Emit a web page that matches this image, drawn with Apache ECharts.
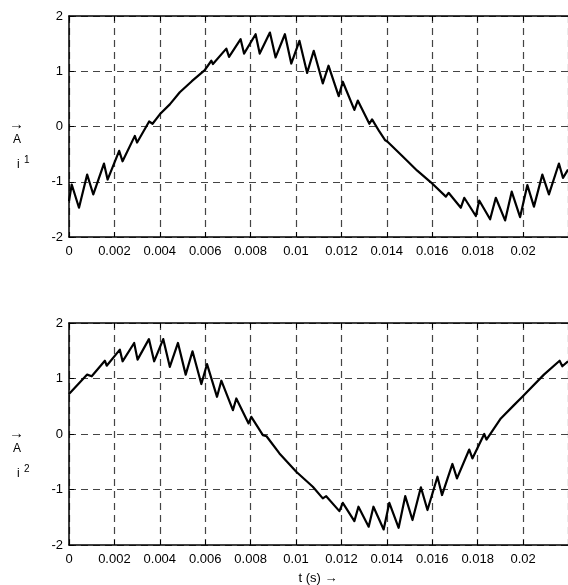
<!DOCTYPE html>
<html>
<head>
<meta charset="utf-8">
<script src="https://cdn.jsdelivr.net/npm/echarts@6/dist/echarts.min.js"></script>
<style>
  html, body { margin: 0; padding: 0; background: #fff; }
  #chart { width: 568px; height: 585px; }
</style>
</head>
<body>
<div id="chart"></div>
<script>
// time ticks and y ticks
const xTicks = [0, 0.002, 0.004, 0.006, 0.008, 0.01, 0.012, 0.014, 0.016, 0.018, 0.02];
const yTicks = [-2, -1, 0, 1, 2];

// i1 (upper plot), peaks and troughs of the ripple
const t1 = [0, 0.00012, 0.00044, 0.00080, 0.00107, 0.00154, 0.00170, 0.00221, 0.00236, 0.00290,
  0.00300, 0.00353, 0.00368, 0.00400, 0.00444, 0.00488, 0.00541, 0.00598, 0.00627, 0.00634,
  0.00693, 0.00705, 0.00756, 0.00771, 0.00822, 0.00840, 0.00885, 0.00910, 0.00951, 0.00979,
  0.01015, 0.01049, 0.01078, 0.01118, 0.01143, 0.01188, 0.01206, 0.01257, 0.01272, 0.01323,
  0.01335, 0.01367, 0.01393, 0.01402, 0.01469, 0.01534, 0.01594, 0.01660, 0.01672, 0.01726,
  0.01741, 0.01792, 0.01807, 0.01855, 0.01880, 0.01921, 0.01950, 0.01987, 0.02019, 0.02048,
  0.02085, 0.02114, 0.02158, 0.02176, 0.02198];
const i1 = [-1.35, -1.05, -1.47, -0.87, -1.23, -0.67, -0.96, -0.44, -0.63, -0.17,
  -0.29, 0.09, 0.05, 0.22, 0.40, 0.62, 0.82, 1.02, 1.19, 1.13,
  1.41, 1.26, 1.58, 1.32, 1.67, 1.32, 1.70, 1.25, 1.67, 1.14,
  1.55, 0.97, 1.37, 0.78, 1.10, 0.55, 0.81, 0.30, 0.47, 0.05,
  0.13, -0.09, -0.25, -0.27, -0.54, -0.80, -1.01, -1.27, -1.20, -1.47,
  -1.29, -1.62, -1.34, -1.68, -1.29, -1.70, -1.18, -1.64, -1.06, -1.45,
  -0.87, -1.23, -0.67, -0.93, -0.78];

// i2 (lower plot)
const t2 = [0, 0.00080, 0.00100, 0.00158, 0.00166, 0.00224, 0.00236, 0.00287, 0.00302, 0.00352,
  0.00375, 0.00415, 0.00444, 0.00480, 0.00514, 0.00544, 0.00583, 0.00608, 0.00652, 0.00671,
  0.00722, 0.00737, 0.00791, 0.00803, 0.00854, 0.00862, 0.00870, 0.00927, 0.01001, 0.01074,
  0.01118, 0.01133, 0.01191, 0.01206, 0.01257, 0.01275, 0.01320, 0.01341, 0.01386, 0.01411,
  0.01452, 0.01481, 0.01513, 0.01550, 0.01579, 0.01623, 0.01643, 0.01689, 0.01709, 0.01763,
  0.01777, 0.01829, 0.01839, 0.01902, 0.01960, 0.01997, 0.02092, 0.02161, 0.02173, 0.02198];
const i2 = [0.72, 1.07, 1.04, 1.32, 1.23, 1.52, 1.31, 1.64, 1.34, 1.71,
  1.31, 1.71, 1.21, 1.64, 1.07, 1.49, 0.90, 1.26, 0.67, 0.96,
  0.43, 0.64, 0.19, 0.31, -0.02, -0.05, -0.04, -0.35, -0.68, -0.95,
  -1.16, -1.12, -1.39, -1.24, -1.57, -1.31, -1.67, -1.31, -1.72, -1.24,
  -1.69, -1.12, -1.55, -0.96, -1.37, -0.77, -1.10, -0.54, -0.80, -0.28,
  -0.44, 0.00, -0.10, 0.28, 0.52, 0.67, 1.07, 1.32, 1.22, 1.31];

const xMax = 0.02198;
const font = 'Liberation Sans, Arial, Helvetica, sans-serif';

const chart = echarts.init(document.getElementById('chart'), null, { renderer: 'canvas' });

const gridLine = { show: true, lineStyle: { color: '#444', width: 1.2, type: [7, 5] } };

function bottomAxis(gridIndex) {
  return {
    type: 'value', gridIndex, min: 0, max: xMax, interval: 0.002,
    axisLine: { show: true, onZero: false, lineStyle: { color: '#000', width: 1.5 } },
    axisTick: { show: true, inside: true, length: 5, lineStyle: { color: '#000' } },
    axisLabel: {
      color: '#000', fontSize: 13, fontFamily: font, margin: 8, showMaxLabel: false,
      formatter: v => String(+v.toFixed(4))
    },
    splitLine: gridLine
  };
}
function topAxis(gridIndex) {
  return {
    type: 'value', gridIndex, position: 'top', min: 0, max: xMax, interval: 0.002,
    axisLine: { show: true, onZero: false, lineStyle: { color: '#000', width: 1.5 } },
    axisTick: { show: true, inside: true, length: 5, lineStyle: { color: '#000' } },
    axisLabel: { show: false },
    splitLine: { show: false }
  };
}
function leftAxis(gridIndex) {
  return {
    type: 'value', gridIndex, min: -2, max: 2, interval: 1,
    axisLine: { show: true, onZero: false, lineStyle: { color: '#000', width: 1.5 } },
    axisTick: { show: true, inside: true, length: 5, lineStyle: { color: '#000' } },
    axisLabel: { color: '#000', fontSize: 13, fontFamily: font, margin: 6 },
    splitLine: gridLine
  };
}

const lineSeries = (idx, t, v) => ({
  type: 'line', xAxisIndex: idx, yAxisIndex: idx,
  data: t.map((x, k) => [x, v[k]]),
  showSymbol: false, symbol: 'none', animation: false,
  lineStyle: { color: '#000', width: 2.2, join: 'round' }
});

const labelText = (x, y, text, size) => ({
  type: 'text', x, y,
  style: { text, fill: '#000', font: size + 'px ' + font, textAlign: 'left', textVerticalAlign: 'middle' }
});

chart.setOption({
  animation: false,
  backgroundColor: '#fff',
  grid: [
    { left: 69, top: 16, width: 500, height: 221, containLabel: false },
    { left: 69, top: 323, width: 500, height: 222, containLabel: false }
  ],
  xAxis: [bottomAxis(0), bottomAxis(1), topAxis(0), topAxis(1)],
  yAxis: [leftAxis(0), leftAxis(1)],
  series: [lineSeries(0, t1, i1), lineSeries(1, t2, i2)],
  graphic: [
    labelText(9, 125, '\u2192', 15),
    labelText(13, 140, 'A', 12),
    labelText(17, 165, 'i', 12),
    labelText(24, 160, '1', 10),
    labelText(9, 434, '\u2192', 15),
    labelText(13, 449, 'A', 12),
    labelText(17, 474, 'i', 12),
    labelText(24, 469, '2', 10),
    { type: 'text', x: 318, y: 578,
      style: { text: 't (s) \u2192', fill: '#000', font: '13px ' + font, textAlign: 'center', textVerticalAlign: 'middle' } }
  ]
});
</script>
</body>
</html>
